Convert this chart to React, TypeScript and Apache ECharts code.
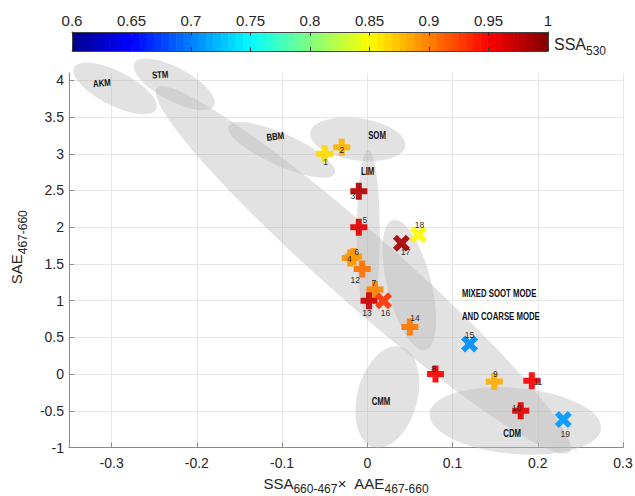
import React, { useEffect, useRef } from 'react';
import * as echarts from 'echarts';

// ---------- axis ticks ----------
const xTicks = [-0.3, -0.2, -0.1, 0, 0.1, 0.2, 0.3];
const yTicks = [-1, -0.5, 0, 0.5, 1, 1.5, 2, 2.5, 3, 3.5, 4];
const colorbarTicks = [0.6, 0.65, 0.7, 0.75, 0.8, 0.85, 0.9, 0.95, 1];

// ---------- points ----------
const pointIds = ['1', '2', '3', '4', '5', '6', '7', '8', '9', '10', '11', '12', '13', '14', '15', '16', '17', '18', '19'];
const pointX = [-0.05, -0.03, -0.01, -0.02, -0.01, -0.016, 0.009, 0.08, 0.149, 0.18, 0.193, -0.006, 0.002, 0.05, 0.12, 0.019, 0.04, 0.06, 0.23];
const pointY = [3.0, 3.09, 2.49, 1.58, 2.0, 1.6, 1.15, 0.0, -0.1, -0.5, -0.09, 1.43, 1.0, 0.64, 0.41, 1.0, 1.78, 1.9, -0.62];
const pointSSA = [0.865, 0.88, 0.98, 0.893, 0.962, 0.89, 0.898, 0.95, 0.882, 0.96, 0.952, 0.906, 0.97, 0.903, 0.705, 0.93, 0.985, 0.852, 0.71];
const pointMarker = ['+', '+', '+', '+', '+', '+', '+', '+', '+', '+', '+', '+', '+', '+', 'x', 'x', 'x', 'x', 'x'];
// label offsets (px) relative to marker centre
const labelOffsets: number[][] = [
  [1, 8], [0, 3], [-6, 5], [-1, 1], [6, -7], [3, -5], [-1, -7], [-2, -5], [1, -7], [-4, -3],
  [6, 1], [-7, 11], [-2, 12], [5, -9], [0, -9], [2, 12], [4, 9], [1, -10], [2, 14],
];

// ---------- aerosol mode ellipses (centre, one end of major axis, minor half-axis in x units) ----------
const ellipseCX = [-0.2958, -0.2265, -0.0047, -0.1004, -0.0112, 0.0012, 0.0493, 0.0235, 0.1737];
const ellipseCY = [3.891, 3.946, 1.418, 3.053, 3.196, 1.909, 1.214, -0.312, -0.639];
const ellipseEX = [-0.2477, -0.1799, 0.2374, -0.0381, 0.0446, 0.0012, 0.0683, 0.0393, 0.2743];
const ellipseEY = [3.606, 3.658, -1.06, 2.732, 3.105, 0.764, 0.328, 0.372, -0.741];
const ellipseMinor = [0.02, 0.0194, 0.041, 0.0188, 0.0246, 0.0135, 0.0258, 0.0352, 0.0387];

// ---------- zone labels ----------
const zoneNames = ['AKM', 'STM', 'BBM', 'SOM', 'LIM', 'CMM', 'CDM', 'MIXED SOOT MODE', 'AND COARSE MODE'];
const zoneX = [-0.3114, -0.243, -0.108, 0.0114, 0.0004, 0.016, 0.17, 0.111, 0.111];
const zoneY = [3.962, 4.075, 3.234, 3.244, 2.757, -0.376, -0.807, 1.101, 0.782];
const zoneRotate = [5, 3, 7, 0, 0, 0, 0, 0, 0];
const zoneAlign = ['center', 'center', 'center', 'center', 'center', 'center', 'center', 'left', 'left'];

const SSA_MIN = 0.6;
const SSA_MAX = 1;
const jet = ['#00008f', '#0000ff', '#0080ff', '#00ffff', '#80ff80', '#ffff00', '#ff8000', '#ff0000', '#800000'];

const PLUS = 'path://M5.5,0H11.5V5.5H17V11.5H11.5V17H5.5V11.5H0V5.5H5.5Z';
const CROSS = 'path://M0,4L4,0L8.5,4.5L13,0L17,4L12.5,8.5L17,13L13,17L8.5,12.5L4,17L0,13L4.5,8.5Z';
const NARROW = "'Liberation Sans Narrow', 'Liberation Sans', Arial, sans-serif";
const SANS = "'Liberation Sans', Arial, sans-serif";
const TXT = '#262626';

export default function App() {
  const ref = useRef<HTMLDivElement>(null);

  useEffect(() => {
    document.body.style.margin = '0';
    if (!ref.current) return;
    const chart = echarts.init(ref.current, undefined, { renderer: 'svg' });

    const steps = 64;
    const cbData: number[][] = [];
    for (let i = 0; i < steps; i++) {
      const a = SSA_MIN + ((SSA_MAX - SSA_MIN) * i) / steps;
      const b = SSA_MIN + ((SSA_MAX - SSA_MIN) * (i + 1)) / steps;
      cbData.push([a, b, (a + b) / 2]);
    }

    const pointData = pointIds.map((id, i) => ({
      name: id,
      value: [pointX[i], pointY[i], pointSSA[i]],
      symbol: pointMarker[i] === '+' ? PLUS : CROSS,
      label: { offset: labelOffsets[i] },
    }));

    const ellipseData = ellipseCX.map((c, i) => [c, ellipseCY[i], ellipseEX[i], ellipseEY[i], ellipseMinor[i]]);
    const zoneData = zoneNames.map((n, i) => [zoneX[i], zoneY[i]]);

    const option: any = {
      animation: false,
      backgroundColor: '#ffffff',
      grid: [
        { left: 69, right: 12, top: 73, bottom: 48.5, outerBoundsMode: 'none' },
        { left: 72, width: 476, top: 32, height: 19, outerBoundsMode: 'none' },
      ],
      visualMap: {
        type: 'continuous',
        show: false,
        min: SSA_MIN,
        max: SSA_MAX,
        dimension: 2,
        seriesIndex: [2, 3],
        inRange: { color: jet },
      },
      xAxis: [
        {
          type: 'value',
          gridIndex: 0,
          min: -0.35,
          max: 0.3,
          axisLine: { show: true, onZero: false, lineStyle: { color: '#8a8a8a', width: 1 } },
          axisTick: { show: true, inside: true, length: 5, customValues: xTicks, lineStyle: { color: '#8a8a8a' } },
          axisLabel: { customValues: xTicks, fontSize: 14, color: TXT, margin: 8, fontFamily: SANS, formatter: (v: number) => String(v) },
          splitLine: { show: true, lineStyle: { color: '#e6e6e6', width: 1 } },
          name: '{a|SSA}{s|660-467}{a|×  AAE}{s|467-660}',
          nameLocation: 'middle',
          nameGap: 25,
          nameMoveOverlap: false,
          nameTextStyle: {
            color: TXT,
            fontFamily: SANS,
            rich: {
              a: { fontSize: 15, lineHeight: 22, color: TXT, fontFamily: SANS },
              s: { fontSize: 12, lineHeight: 12, padding: [10, 0, 0, 0], verticalAlign: 'bottom', color: TXT, fontFamily: SANS },
            },
          },
        },
        {
          type: 'value',
          gridIndex: 1,
          position: 'top',
          min: SSA_MIN,
          max: SSA_MAX,
          z: 10,
          axisLine: { show: true, onZero: false, lineStyle: { color: '#444', width: 1 } },
          axisTick: { show: true, inside: true, length: 4, customValues: colorbarTicks, lineStyle: { color: '#333' } },
          axisLabel: { customValues: colorbarTicks, fontSize: 15, color: TXT, margin: 4, fontFamily: SANS, formatter: (v: number) => String(v) },
          splitLine: { show: false },
        },
        {
          type: 'value',
          gridIndex: 1,
          position: 'bottom',
          min: SSA_MIN,
          max: SSA_MAX,
          z: 10,
          axisLine: { show: true, onZero: false, lineStyle: { color: '#444', width: 1 } },
          axisTick: { show: true, inside: true, length: 4, customValues: colorbarTicks, lineStyle: { color: '#333' } },
          axisLabel: { show: false },
          splitLine: { show: false },
        },
      ],
      yAxis: [
        {
          type: 'value',
          gridIndex: 0,
          min: -1,
          max: 4.1,
          axisLine: { show: true, onZero: false, lineStyle: { color: '#8a8a8a', width: 1 } },
          axisTick: { show: true, inside: true, length: 5, customValues: yTicks, lineStyle: { color: '#8a8a8a' } },
          axisLabel: { customValues: yTicks, fontSize: 14, color: TXT, margin: 5, fontFamily: SANS, formatter: (v: number) => String(v) },
          splitLine: { show: true, lineStyle: { color: '#e6e6e6', width: 1 } },
          name: '{a|SAE}{s|467-660}',
          nameLocation: 'middle',
          nameGap: 40,
          nameMoveOverlap: false,
          nameTextStyle: {
            color: TXT,
            fontFamily: SANS,
            padding: [0, 0, 0, 26],
            rich: {
              a: { fontSize: 15, lineHeight: 26, color: TXT, fontFamily: SANS },
              s: { fontSize: 12, lineHeight: 12, padding: [14, 0, 0, 0], verticalAlign: 'bottom', color: TXT, fontFamily: SANS },
            },
          },
        },
        {
          type: 'value', gridIndex: 1, position: 'left', min: 0, max: 1, z: 10,
          axisLine: { show: true, onZero: false, lineStyle: { color: '#444' } },
          axisTick: { show: false }, axisLabel: { show: false }, splitLine: { show: false },
        },
        {
          type: 'value', gridIndex: 1, position: 'right', min: 0, max: 1, z: 10,
          axisLine: { show: true, onZero: false, lineStyle: { color: '#444' } },
          axisTick: { show: false }, axisLabel: { show: false }, splitLine: { show: false },
        },
      ],
      series: [
        {
          type: 'custom',
          name: 'ellipses',
          xAxisIndex: 0,
          yAxisIndex: 0,
          clip: false,
          z: 1,
          silent: true,
          encode: { x: [0, 2], y: [1, 3] },
          data: ellipseData,
          renderItem: (params: any, api: any) => {
            const c = api.coord([api.value(0), api.value(1)]);
            const e = api.coord([api.value(2), api.value(3)]);
            const dx = e[0] - c[0];
            const dy = e[1] - c[1];
            const a = Math.hypot(dx, dy);
            const b = api.size([api.value(4), 0])[0];
            const ang = Math.atan2(dy, dx);
            return {
              type: 'ellipse',
              x: c[0],
              y: c[1],
              rotation: -ang,
              shape: { cx: 0, cy: 0, rx: a, ry: b },
              style: { fill: 'rgba(185,185,185,0.42)' },
            };
          },
        },
        {
          type: 'custom',
          name: 'zones',
          xAxisIndex: 0,
          yAxisIndex: 0,
          clip: false,
          z: 3,
          silent: true,
          data: zoneData,
          renderItem: (params: any, api: any) => {
            const i = params.dataIndex;
            const p = api.coord([api.value(0), api.value(1)]);
            return {
              type: 'text',
              x: p[0],
              y: p[1],
              scaleX: 0.78,
              rotation: (zoneRotate[i] * Math.PI) / 180,
              style: {
                text: zoneNames[i],
                fill: '#111',
                fontSize: 10,
                fontWeight: 'bold',
                fontFamily: NARROW,
                align: zoneAlign[i],
                verticalAlign: 'middle',
              },
            };
          },
        },
        {
          type: 'scatter',
          name: 'points',
          xAxisIndex: 0,
          yAxisIndex: 0,
          z: 4,
          symbolSize: 17,
          data: pointData,
          itemStyle: { opacity: 0.92 },
          label: {
            show: true,
            position: 'inside',
            formatter: (p: any) => p.name,
            fontSize: 8.5,
            color: '#111',
            fontFamily: NARROW,
          },
        },
        {
          type: 'custom',
          name: 'colorbar',
          xAxisIndex: 1,
          yAxisIndex: 1,
          z: 2,
          silent: true,
          encode: { x: [0, 1] },
          data: cbData,
          renderItem: (params: any, api: any) => {
            const p0 = api.coord([api.value(0), 0]);
            const p1 = api.coord([api.value(1), 1]);
            return {
              type: 'rect',
              shape: { x: p0[0], y: p1[1], width: p1[0] - p0[0] + 0.6, height: p0[1] - p1[1] },
              style: { fill: api.visual('color') },
            };
          },
        },
      ],
      graphic: [
        {
          type: 'text',
          left: 554,
          top: 31,
          style: {
            text: '{a|SSA}{s|530}',
            rich: {
              a: { fontSize: 16, lineHeight: 26, fill: TXT, fontFamily: SANS },
              s: { fontSize: 12, lineHeight: 12, padding: [14, 0, 0, 0], verticalAlign: 'bottom', fill: TXT, fontFamily: SANS },
            },
          },
        },
      ],
    };

    chart.setOption(option);
    return () => chart.dispose();
  }, []);

  return <div ref={ref} style={{ position: 'absolute', left: 0, top: 0, width: 635, height: 496 }} />;
}
